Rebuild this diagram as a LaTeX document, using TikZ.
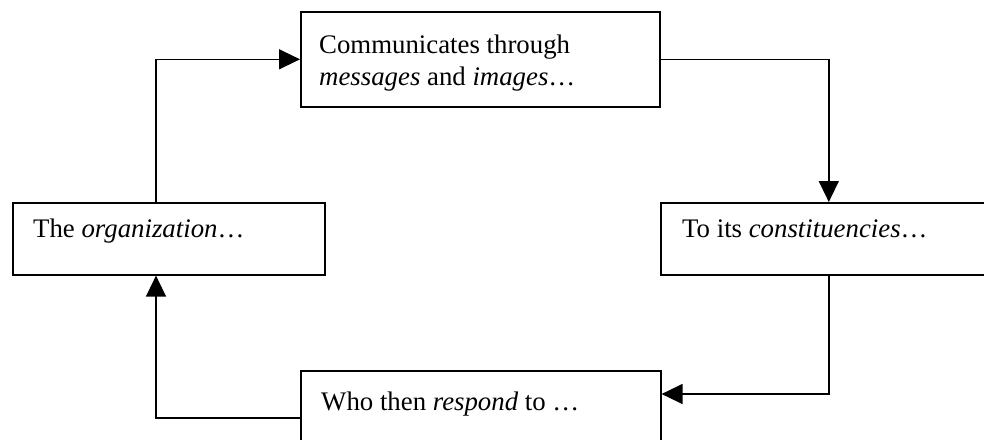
\documentclass[tikz,border=0pt]{standalone}
\usepackage{fontspec}
\setmainfont{Liberation Serif}
\usetikzlibrary{arrows.meta,calc}
\begin{document}
\begin{tikzpicture}[x=1pt,y=-1pt,
  box/.style={draw,line width=1.6pt,rectangle,inner sep=0pt,anchor=north west},
  txt/.style={anchor=base west,inner sep=0pt,font=\fontsize{26.8}{32}\selectfont},
  link/.style={line width=1.4pt},
  arr/.style={link,-{Triangle[length=21pt,width=20pt]}}]
\useasboundingbox (0,0) rectangle (984,439);
\clip (0,0) rectangle (984,439);

% the four stages of the cycle
\node[box,minimum width=359pt,minimum height=95pt] (comm) at (300,11) {};
\node[box,minimum width=312pt,minimum height=72pt] (org) at (12,202) {};
\node[box,minimum width=336pt,minimum height=72pt] (const) at (660,202) {};
\node[box,minimum width=360pt,minimum height=95pt] (resp) at (300,370) {};

% their texts
\node[txt] (commA) at (319,53) {Communicates through};
\node[txt] (commB) at (319,85) {\emph{messages} and \emph{images}…};
\node[txt] (orgT) at (33,237) {The \emph{organization}…};
\node[txt] (constT) at (682,237) {To its \emph{constituencies}…};
\node[txt] (respT) at (321,410) {Who then \emph{respond} to …};

% routing column and rows of the connectors
\coordinate (colL) at (156,0);
\coordinate (rowIn) at (0,394);
\coordinate (rowOut) at (0,418);

% the connectors
\draw[arr] (colL |- org.north) |- (comm.west);
\draw[arr] (comm.east) -| (const.north);
\draw[arr] (const.south) |- (rowIn -| resp.east);
\draw[arr] (rowOut -| resp.west) -| (colL |- org.south);
\end{tikzpicture}
\end{document}
